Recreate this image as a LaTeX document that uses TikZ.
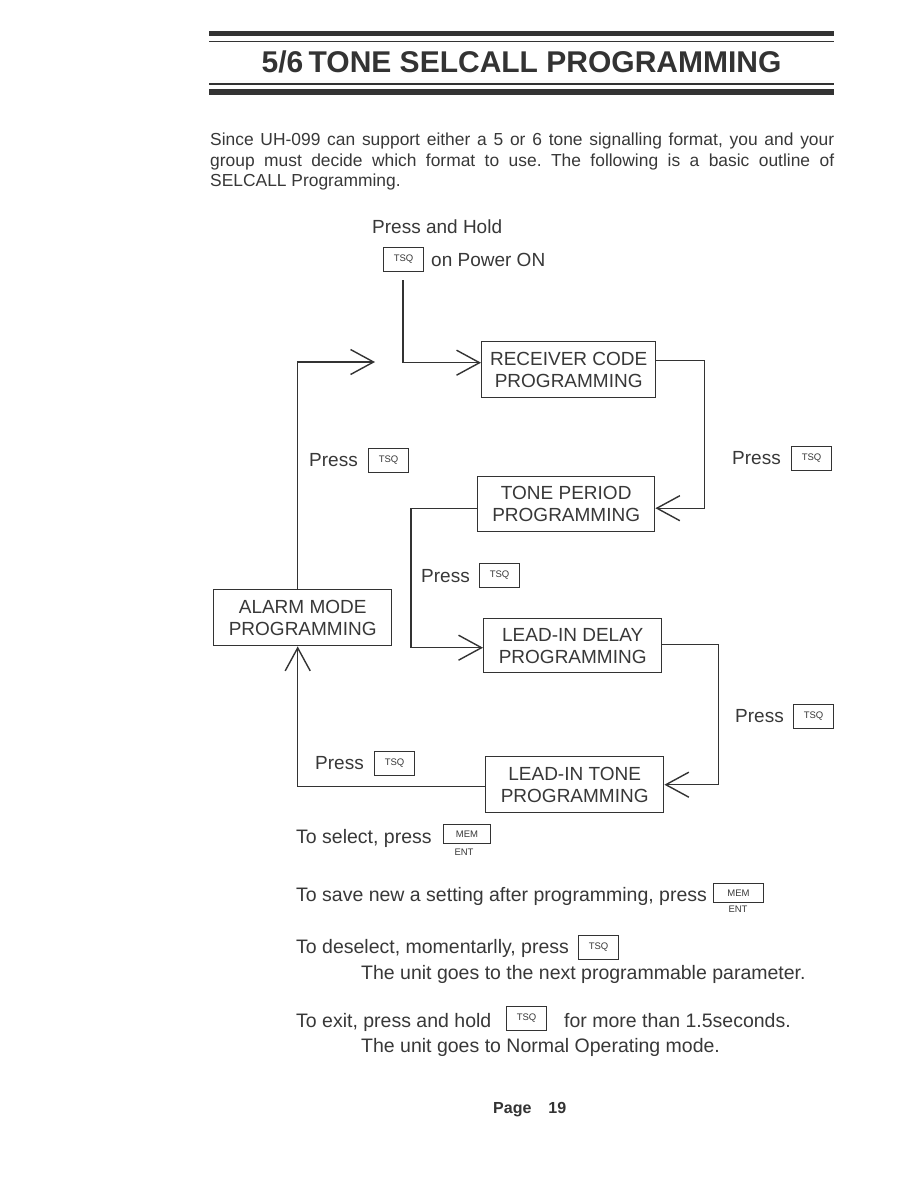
\documentclass[tikz,border=0pt]{standalone}
\usepackage{fontspec}
\setmainfont{Liberation Sans}
\usetikzlibrary{arrows.meta}
\definecolor{ink}{HTML}{333333}
\definecolor{txt}{HTML}{383838}
\frenchspacing
\begin{document}
\begin{tikzpicture}[x=1pt,y=-1pt,
  every node/.style={text=txt},
  lbl/.style={font=\fontsize{19}{22}\selectfont, inner sep=0, anchor=base west},
  note/.style={font=\fontsize{19.5}{22}\selectfont, inner sep=0, anchor=base west},
  para/.style={font=\fontsize{17.4}{20}\selectfont, inner sep=0, anchor=base west},
  prog/.style={draw=ink, line width=1.4pt, align=center, font=\fontsize{19}{22}\selectfont, inner sep=0, anchor=north west},
  keybox/.style={draw=ink, line width=1.1pt, inner sep=0, minimum width=40pt, minimum height=24pt, font=\fontsize{9.5}{10}\selectfont, anchor=north west},
  conn/.style={draw=ink, line width=1.4pt},
  arr/.style={conn, -{Straight Barb[length=23pt, width=25pt, line width=1.4pt]}}]
\useasboundingbox (0,0) rectangle (918,1188);
\fill[white] (0,0) rectangle (918,1188);

% header
\fill[ink] (209,31) rectangle (834,36.5);
\draw[ink, line width=1.2pt] (209,41.5) -- (834,41.5);
\draw[ink, line width=1.2pt] (209,84) -- (834,84);
\fill[ink] (209,89.5) rectangle (834,95);
\node[font=\fontsize{30}{31}\selectfont\bfseries, inner sep=0, anchor=base, text=ink] (title) at (521.5,73) {5/6\hspace{-0.1em} TONE SELCALL PROGRAMMING};

% intro paragraph
\node[para] (intro1) at (210,146) {\makebox[624pt][s]{Since UH-099 can support either a 5 or 6 tone signalling format, you and your}};
\node[para] (intro2) at (210,166) {\makebox[624pt][s]{group must decide which format to use. The following is a basic outline of}};
\node[para] (intro3) at (210,186) {SELCALL Programming.};

% start
\node[lbl] (hold) at (372,233) {Press and Hold};
\node[keybox] (k0) at (383,247) {TSQ};
\node[lbl] (pon) at (431,266) {on Power ON};
\coordinate (k0out) at (403,280);

% program boxes
\node[prog, minimum width=174pt, minimum height=56pt] (rc) at (481,341) {RECEIVER CODE\\PROGRAMMING};
\node[prog, minimum width=177pt, minimum height=55pt] (tp) at (477,476) {TONE PERIOD\\PROGRAMMING};
\node[prog, minimum width=178pt, minimum height=56pt] (al) at (213,589) {ALARM MODE\\PROGRAMMING};
\node[prog, minimum width=178pt, minimum height=54pt] (ld) at (483,618) {LEAD-IN DELAY\\PROGRAMMING};
\node[prog, minimum width=178pt, minimum height=56pt] (lt) at (485,756) {LEAD-IN TONE\\PROGRAMMING};

% press labels
\node[lbl] (p1) at (309,466) {Press};
\node[keybox] (k1) at (368,448) {TSQ};
\node[lbl] (p2) at (732,464) {Press};
\node[keybox] (k2) at (791,446) {TSQ};
\node[lbl] (p3) at (421,582) {Press};
\node[keybox] (k3) at (479,563) {TSQ};
\node[lbl] (p4) at (735,722) {Press};
\node[keybox] (k4) at (793,704) {TSQ};
\node[lbl] (p5) at (315,769) {Press};
\node[keybox] (k5) at (374,751) {TSQ};

% connectors
\coordinate (loopend) at (375,362);
\draw[arr] (k0out) |- ([yshift=7pt]rc.west);
\draw[arr] ([xshift=-5pt]al.north) |- (loopend);
\draw[arr] ([yshift=9pt]rc.east) -- ++(48,0) |- ([yshift=-4pt]tp.east);
\draw[arr] ([yshift=-4pt]tp.west) -- ++(-66,0) |- ([yshift=-2pt]ld.west);
\draw[arr] ([yshift=1pt]ld.east) -- ++(56,0) |- (lt.east);
\draw[arr] ([yshift=-2pt]lt.west) -| ([xshift=-5pt]al.south);

% notes
\node[note] (n1) at (296,843) {To select, press};
\node[keybox, minimum width=47pt, minimum height=19pt] (m1) at (443,824) {MEM};
\node[font=\fontsize{9.5}{10}\selectfont, inner sep=0, anchor=base] (e1) at (464,855) {ENT};

\node[note] (n2) at (296,901) {To save new a setting after programming, press};
\node[keybox, minimum width=50pt, minimum height=19pt] (m2) at (713,883) {MEM};
\node[font=\fontsize{9.5}{10}\selectfont, inner sep=0, anchor=base] (e2) at (738,912) {ENT};

\node[note] (n3) at (296,953) {To deselect, momentarlly, press};
\node[keybox] (k6) at (578,935) {TSQ};
\node[note] (n4) at (361,979) {The unit goes to the next programmable parameter.};

\node[note] (n5) at (296,1027) {To exit, press and hold};
\node[keybox] (k7) at (506,1006) {TSQ};
\node[note] (n6) at (564,1027) {for more than 1.5seconds.};
\node[note] (n7) at (361,1052) {The unit goes to Normal Operating mode.};

\node[font=\fontsize{16}{18}\selectfont\bfseries, inner sep=0, anchor=base west, text=ink] (page) at (493,1113) {Page\hspace{17pt}19};
\end{tikzpicture}
\end{document}
